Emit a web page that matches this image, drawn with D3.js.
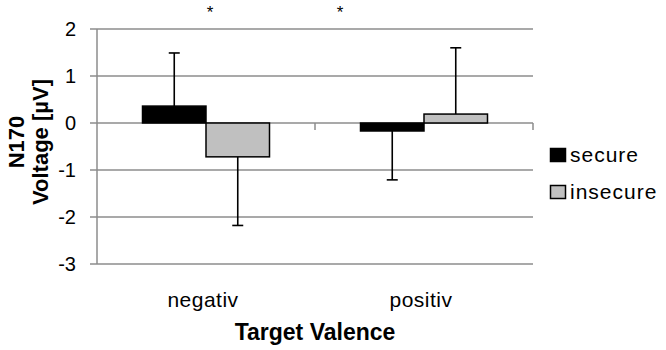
<!DOCTYPE html>
<html><head><meta charset="utf-8">
<script src="https://cdn.jsdelivr.net/npm/d3@7"></script>
<style>body{margin:0;background:#fff}svg{display:block}text{font-family:"Liberation Sans",Arial,sans-serif;fill:#000}</style>
</head><body><svg id="c" width="666" height="350"></svg>
<script>
const categories = ["negativ", "positiv"];
const seriesNames = ["secure", "insecure"];
const secureValues = [0.36, -0.17];
const insecureValues = [-0.72, 0.19];
const secureErr = [1.13, 1.04];
const insecureErr = [1.46, 1.41];
const yTicks = [2, 1, 0, -1, -2, -3];
const significance = ["*", "*"];

const svg = d3.select("#c");
const m = {l: 97, r: 533, t: 29, b: 264};
const x = d3.scaleBand().domain(categories).range([m.l, m.r]).paddingInner(0).paddingOuter(0);
const y = d3.scaleLinear().domain([-3, 2]).range([m.b, m.t]);
const colors = {secure: "#000", insecure: "#c0c0c0"};
const gridCol = "#8c8c8c";

// gridlines
svg.append("g").selectAll("line").data(yTicks).join("line")
  .attr("x1", m.l - 7).attr("x2", m.r).attr("y1", d => y(d)).attr("y2", d => y(d))
  .attr("stroke", gridCol).attr("stroke-width", 1.5);
// y axis line
svg.append("line").attr("x1", m.l).attr("x2", m.l).attr("y1", y(2)).attr("y2", y(-3))
  .attr("stroke", gridCol).attr("stroke-width", 1.5);
// y tick labels
svg.append("g").selectAll("text").data(yTicks).join("text")
  .attr("x", 76).attr("y", d => y(d) + 7).attr("text-anchor", "end")
  .attr("font-size", 20).text(d => d);
// x-axis category ticks at zero line
const bounds = [x(categories[1]), m.r];
svg.append("g").selectAll("line").data(bounds).join("line")
  .attr("x1", d => d).attr("x2", d => d).attr("y1", y(0)).attr("y2", y(0) + 7)
  .attr("stroke", gridCol).attr("stroke-width", 1.5);

const barW = 63.5;
const data = [];
categories.forEach((c, i) => {
  data.push({c, s: "secure", v: secureValues[i], e: secureErr[i], k: 0});
  data.push({c, s: "insecure", v: insecureValues[i], e: insecureErr[i], k: 1});
});
const bx = d => x(d.c) + x.bandwidth() / 2 - barW + d.k * barW;

// error bars (one-sided, outward)
const eg = svg.append("g");
data.forEach(d => {
  const cx = bx(d) + barW / 2;
  const end = d.v >= 0 ? d.v + d.e : d.v - d.e;
  eg.append("line").attr("x1", cx).attr("x2", cx).attr("y1", y(d.v)).attr("y2", y(end))
    .attr("stroke", "#000").attr("stroke-width", 1.6);
  eg.append("line").attr("x1", cx - 5.5).attr("x2", cx + 5.5).attr("y1", y(end)).attr("y2", y(end))
    .attr("stroke", "#000").attr("stroke-width", 1.6);
});
// bars
svg.append("g").selectAll("rect").data(data).join("rect")
  .attr("x", bx).attr("width", barW)
  .attr("y", d => y(Math.max(0, d.v))).attr("height", d => Math.abs(y(d.v) - y(0)))
  .attr("fill", d => colors[d.s]).attr("stroke", "#000").attr("stroke-width", 1.5);

// significance stars
svg.append("g").selectAll("text").data(significance).join("text")
  .attr("x", (d, i) => i === 0 ? 210 : 340).attr("y", 18).attr("text-anchor", "middle")
  .attr("font-size", 17).attr("fill", "#333").text(d => d);

// x labels
svg.append("g").selectAll("text").data(categories).join("text")
  .attr("x", d => x(d) + x.bandwidth() / 2 - 3).attr("y", 307).attr("text-anchor", "middle")
  .attr("font-size", 21).attr("letter-spacing", 0.5).text(d => d);
svg.append("text").attr("x", 315).attr("y", 340).attr("text-anchor", "middle")
  .attr("font-size", 23).attr("font-weight", "bold").text("Target Valence");

// y title
const yt = svg.append("text").attr("transform", "translate(0,142) rotate(-90)")
  .attr("text-anchor", "middle").attr("font-size", 22).attr("font-weight", "bold");
yt.append("tspan").attr("x", 0).attr("y", 24).text("N170");
yt.append("tspan").attr("x", 0).attr("y", 48).text("Voltage [µV]");

// legend
const lg = svg.append("g").selectAll("g").data(seriesNames).join("g")
  .attr("transform", (d, i) => `translate(550,${148 + i * 37})`);
lg.append("rect").attr("width", 15).attr("height", 13).attr("x", 0.5).attr("y", 0.5)
  .attr("fill", d => colors[d]).attr("stroke", "#000").attr("stroke-width", 1.5);
lg.append("text").attr("x", 20).attr("y", 14).attr("font-size", 21).attr("letter-spacing", 1).text(d => d);
</script></body></html>
